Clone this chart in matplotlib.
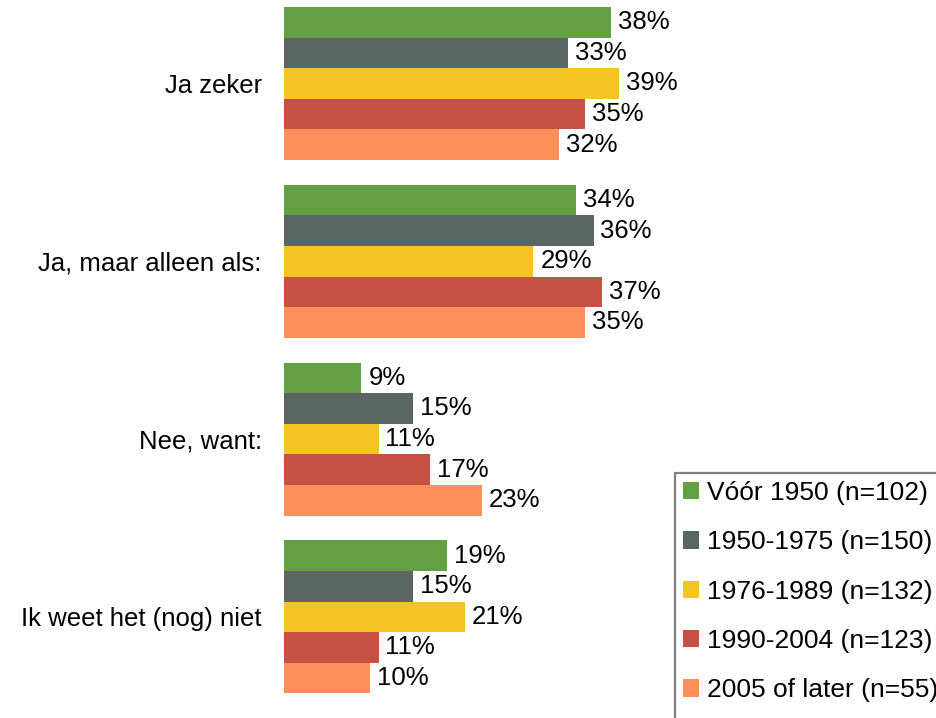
import numpy as np
import matplotlib.pyplot as plt
from matplotlib.patches import Patch, Rectangle

categories = ['Ja zeker', 'Ja, maar alleen als:', 'Nee, want:', 'Ik weet het (nog) niet']
series = ['Vóór 1950 (n=102)', '1950-1975 (n=150)', '1976-1989 (n=132)',
          '1990-2004 (n=123)', '2005 of later (n=55)']
voor1950 = [38, 34, 9, 19]
s1950_1975 = [33, 36, 15, 15]
s1976_1989 = [39, 29, 11, 21]
s1990_2004 = [35, 37, 17, 11]
s2005 = [32, 35, 23, 10]
values = [voor1950, s1950_1975, s1976_1989, s1990_2004, s2005]
colors = ['#63A043', '#5B6663', '#F4C422', '#C55043', '#FF8F5A']

plt.rcParams['font.family'] = ['Liberation Sans', 'DejaVu Sans']
fs = 18.5

W, H = 936, 718
fig = plt.figure(figsize=(W / 100, H / 100), dpi=100)
left = 284 / W
ax = fig.add_axes([left, 0, 1 - left, 1])

pitch = 177.8  # px per group
bh = 153 / 5 / pitch
y = np.arange(len(categories))
for i, (vals, c) in enumerate(zip(values, colors)):
    pos = y - 2 * bh + i * bh
    bars = ax.barh(pos, vals, height=bh, color=c, align='center')
    for b, v in zip(bars, vals):
        ax.text(b.get_width() + 0.8, b.get_y() + b.get_height() / 2, f'{v}%',
                va='center', ha='left', fontsize=fs)

top = -83.5 / pitch
ax.set_ylim(top + H / pitch, top)
ax.set_xlim(0, (W - 284) / 8.6)
ax.set_yticks(y)
ax.set_yticklabels(categories, fontsize=fs)
ax.tick_params(axis='y', length=0, pad=16)
ax.set_xticks([])
for s in ax.spines.values():
    s.set_visible(False)

# legend box runs off the right and bottom edge of the picture (as in the original)
box_x, box_y = 675 / W, 1 - 473 / H
fig.patches.append(Rectangle((box_x, -0.05), 1.1 - box_x, box_y + 0.05,
                             transform=fig.transFigure, facecolor='white',
                             edgecolor='#7f7f7f', linewidth=1.6, zorder=5))
handles = [Patch(facecolor=c, edgecolor='none') for c in colors]
leg = fig.legend(handles, series, loc='upper left',
                 bbox_to_anchor=(box_x, box_y), borderaxespad=0,
                 fontsize=19, handlelength=0.62, handleheight=0.62,
                 handletextpad=0.3, labelspacing=0.96, borderpad=0.3,
                 frameon=False)
leg.set_zorder(6)

fig.savefig('out.png', dpi=100)
